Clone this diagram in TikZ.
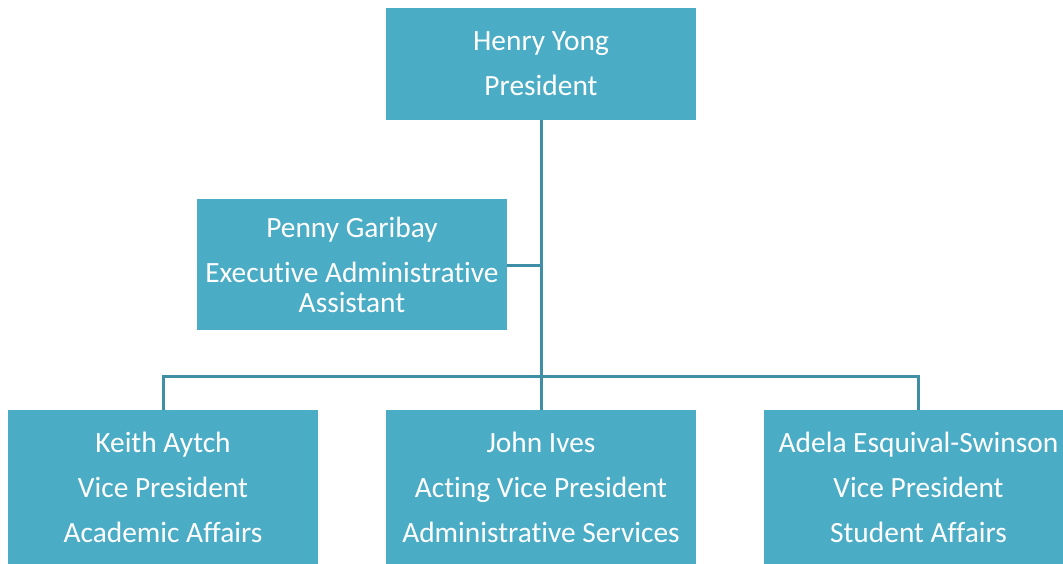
\documentclass[tikz,border=0pt]{standalone}
\usepackage{fontspec}
\setmainfont{Carlito}[Ligatures={NoCommon,NoRare,NoContextual}]
\definecolor{boxfill}{HTML}{4BACC6}
\definecolor{linecol}{HTML}{3E8FA6}
\tikzset{
  orgbox/.style={fill=boxfill, draw=none, text=white, align=center, inner sep=0pt,
    font=\fontsize{29.4}{45}\selectfont, minimum width=310pt},
  conn/.style={draw=linecol, line width=3pt}
}
\begin{document}
\begin{tikzpicture}[x=1pt,y=-1pt]
\useasboundingbox (0,0) rectangle (1063,563);
\clip (0,0) rectangle (1063,563);
\node[orgbox, minimum height=112pt] (pres) at (541,64) {Henry Yong\\President};
\node[orgbox, minimum height=131pt, font=\fontsize{29.4}{30}\selectfont] (penny) at (352,264.5) {Penny Garibay\\[15pt]Executive Administrative\\Assistant};
\node[orgbox, minimum height=154pt] (keith) at (163,487) {Keith Aytch\\Vice President\\Academic Affairs};
\node[orgbox, minimum height=154pt] (john) at (541,487) {John Ives\\Acting Vice President\\Administrative Services};
\node[orgbox, minimum height=154pt] (adela) at (918.5,487) {Adela Esquival-Swinson\\Vice President\\Student Affairs};
\coordinate (bar) at (541,376);
\coordinate (pj) at (541,265);
\draw[conn] (pres.south) -- (bar);
\draw[conn] (penny.east |- pj) -- (pj);
\draw[conn] (keith.north) -- (keith.north |- bar) -- (adela.north |- bar) -- (adela.north);
\draw[conn] (bar) -- (john.north);
\end{tikzpicture}
\end{document}
